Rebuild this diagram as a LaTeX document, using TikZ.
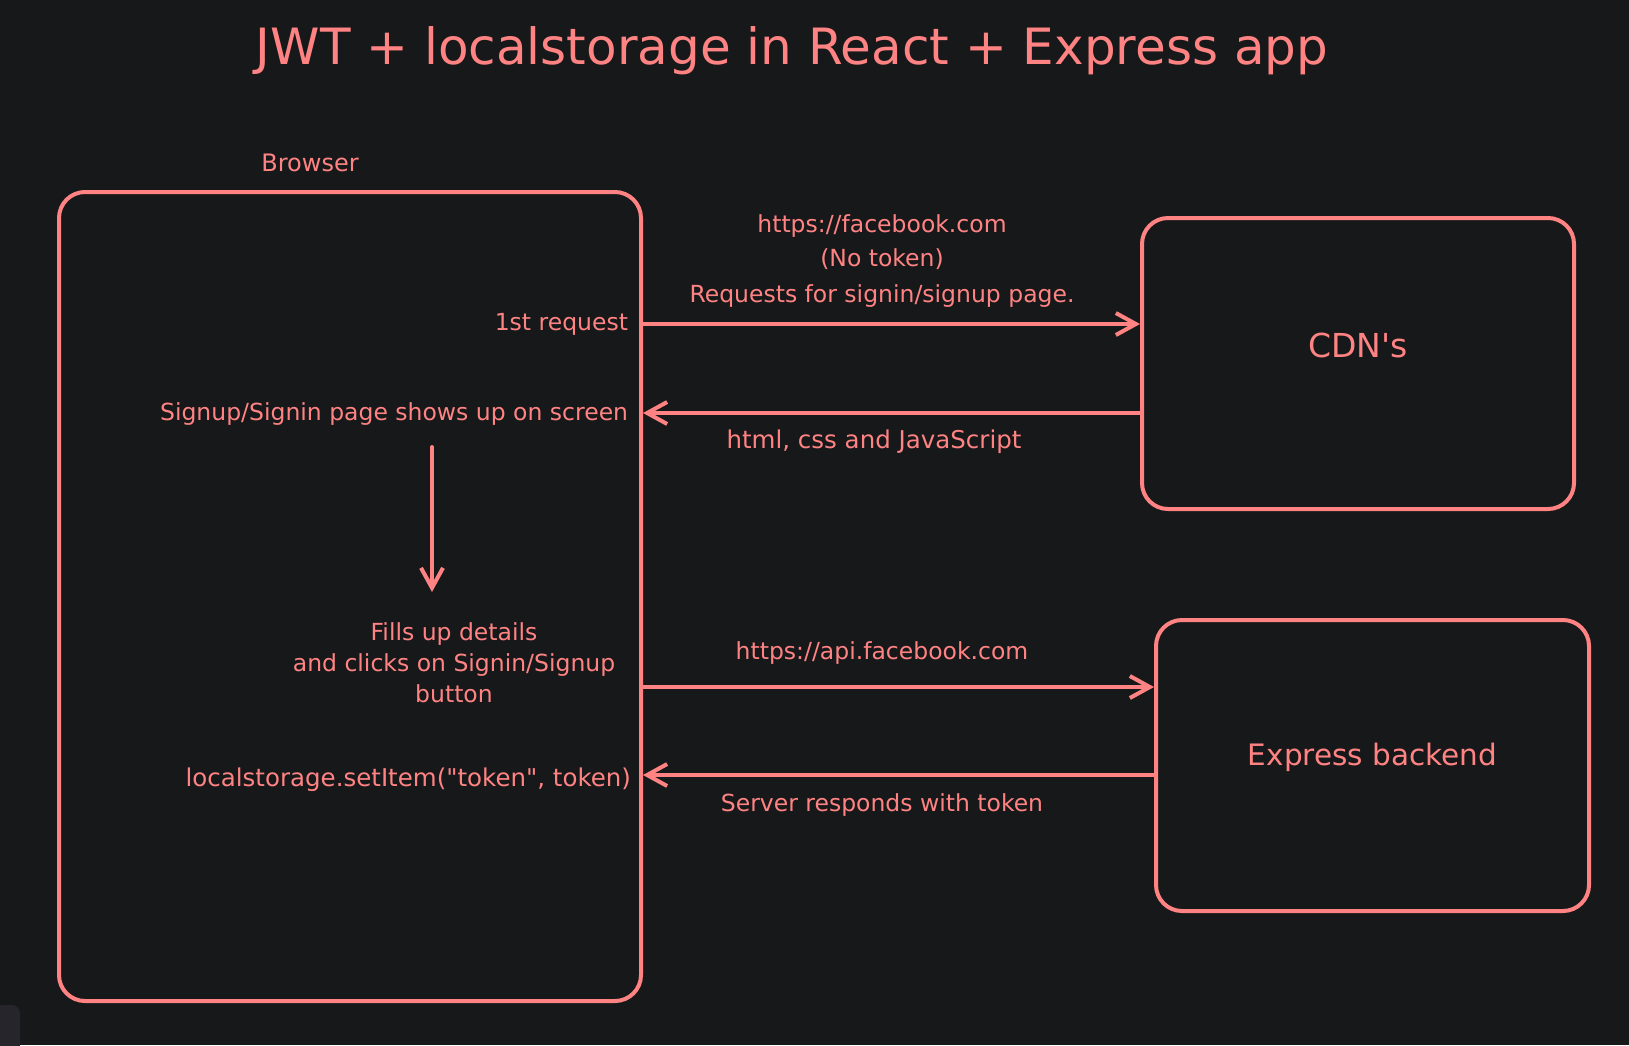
\documentclass[tikz,border=0pt]{standalone}
\usepackage{fontspec}
\setmainfont{DejaVu Sans}
\usetikzlibrary{arrows.meta,positioning}
\definecolor{salmon}{HTML}{FF8383}
\definecolor{night}{HTML}{17181A}
\definecolor{widget}{HTML}{25252B}

\begin{document}
\begin{tikzpicture}[x=1pt,y=-1pt,>={Straight Barb[length=20pt,width=22pt]},line width=4pt,line cap=round,salmon]
        \tikzstyle{box}=[draw, rounded corners=26pt, anchor=north west, inner sep=0pt]
        \tikzstyle{flow}=[->, shorten >=0pt]
        \tikzstyle{lbl}=[text=salmon, font=\fontsize{23.5}{31}\selectfont, inner sep=0pt, align=center]

        \fill[night] (0,0) rectangle (1629,1045);
        \useasboundingbox (0,0) rectangle (1629,1045);
        \fill[widget, rounded corners=8pt] (-10,1005) rectangle (20,1055);

        \node[lbl, font=\fontsize{50}{56}\selectfont, anchor=base] (title) at (792,64) {JWT + localstorage in React + Express app};

        % boxes
        \node[box, minimum width=582pt, minimum height=809pt] (browser) at (57,190) {};
        \node[box, minimum width=432pt, minimum height=291pt] (cdn) at (1140,216) {};
        \node[box, minimum width=433pt, minimum height=291pt] (express) at (1154,618) {};
        \node[lbl, font=\fontsize{24}{30}\selectfont, anchor=base] (browserlbl) at (310,171) {Browser};
        \node[lbl, font=\fontsize{33}{38}\selectfont] at (cdn.center |- 0,345) {CDN\textquotesingle s};
        \node[lbl, font=\fontsize{29.5}{34}\selectfont] at (express.center |- 0,757) {Express backend};

        % rows of the exchange
        \coordinate (req) at (0,324);
        \coordinate (page) at (0,413);
        \coordinate (api) at (0,687);
        \coordinate (tok) at (0,775);

        \draw[flow] (req -| browser.east) -- (req -| cdn.west);
        \draw[flow] (page -| cdn.west) -- (page -| browser.east);
        \draw[flow] (api -| browser.east) -- (api -| express.west);
        \draw[flow] (tok -| express.west) -- (tok -| browser.east);

        \node[lbl, anchor=base east] (first) at (630,330) {1st request};
        \node[lbl, anchor=base east] (shows) at (630,420) {Signup/Signin page shows up on screen};
        \node[lbl, anchor=base] (fb) at (882,232) {https://facebook.com};
        \node[lbl, anchor=base] (notok) at (882,266) {(No token)};
        \node[lbl, anchor=base] (ask) at (882,302) {Requests for signin/signup page.};
        \node[lbl, font=\fontsize{24.5}{31}\selectfont, anchor=base] (assets) at (874,448) {html, css and JavaScript};

        \coordinate (down1) at (432,447);
        \coordinate (down2) at (432,592);
        \draw[flow] (down1) -- (down2);

        \node[lbl, anchor=base] (fill) at (454,702) {Fills up details\\and clicks on Signin/Signup\\button};
        \node[lbl, anchor=base] (apifb) at (882,659) {https://api.facebook.com};
        \node[lbl, font=\fontsize{24.5}{31}\selectfont, anchor=base east] (store) at (633,786) {localstorage.setItem(\textquotedbl token\textquotedbl, token)};
        \node[lbl, anchor=base] (resp) at (882,811) {Server responds with token};
      
\end{tikzpicture}
\end{document}
